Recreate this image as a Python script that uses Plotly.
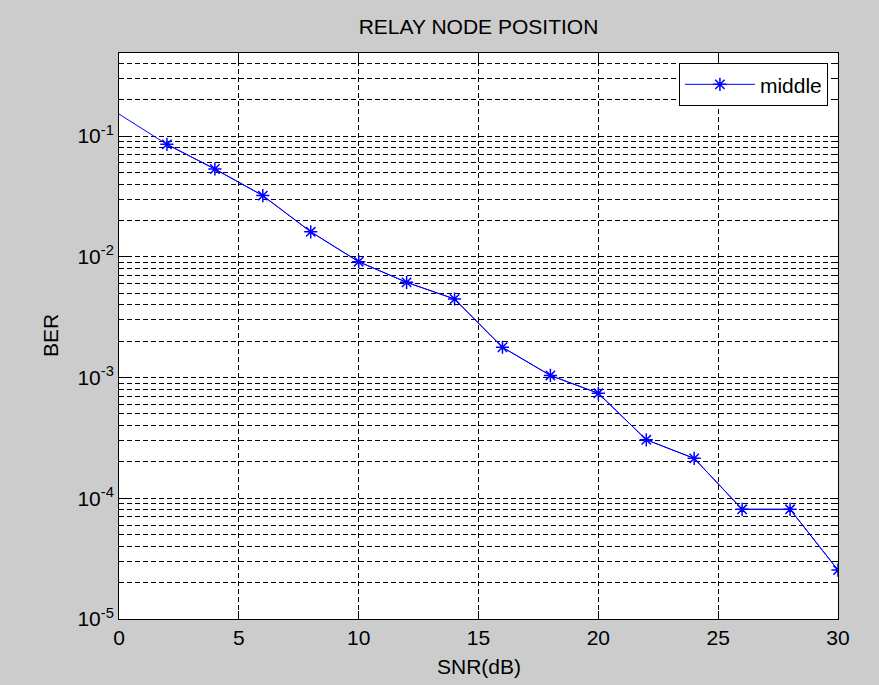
import numpy as np
import plotly.graph_objects as go

snr_db = [0, 2, 4, 6, 8, 10, 12, 14, 16, 18, 20, 22, 24, 26, 28, 30]
ber_middle = [0.152, 0.0853, 0.0533, 0.0321, 0.0161, 0.0091, 0.00614, 0.00447,
              0.00178, 0.00104, 0.00074, 0.000305, 0.000214, 0.000081, 0.000081, 0.0000254]
series_name = "middle"
x_ticks = [0, 5, 10, 15, 20, 25, 30]
y_major = [1e-5, 1e-4, 1e-3, 1e-2, 1e-1]
y_major_text = ["10<sup>-5</sup>", "10<sup>-4</sup>", "10<sup>-3</sup>", "10<sup>-2</sup>", "10<sup>-1</sup>"]
y_minor = [m * 10.0 ** e for e in range(-5, 0) for m in range(2, 10)]
y_top = 0.487

FONT = "Liberation Sans, Arial, sans-serif"
FS = 21
BLUE = "#0000ff"
GRID_DASH = "5px,3px"

fig = go.Figure()
# line through all points (first point has no marker in the reference)
fig.add_trace(go.Scatter(x=snr_db, y=ber_middle, mode="lines",
                         line=dict(color=BLUE, width=1), showlegend=False,
                         hoverinfo="skip"))
fig.add_trace(go.Scatter(x=snr_db[1:], y=ber_middle[1:], mode="lines+markers",
                         name=series_name,
                         line=dict(color=BLUE, width=1),
                         marker=dict(symbol="asterisk", size=11, color=BLUE,
                                     line=dict(color=BLUE, width=1.5))))

fig.update_layout(
    width=879, height=685,
    margin=dict(l=119, r=41, t=53, b=66),
    paper_bgcolor="#cccccc", plot_bgcolor="white",
    font=dict(family=FONT, size=FS, color="black"),
    title=dict(text="RELAY NODE POSITION", x=0.5, xanchor="center",
               xref="paper", y=1 - 27 / 685, yref="container", yanchor="middle",
               font=dict(family=FONT, size=FS, color="black")),
    legend=dict(x=0.986, y=0.982, xanchor="right", yanchor="top",
                bgcolor="white", bordercolor="black", borderwidth=1,
                itemwidth=70,
                font=dict(family=FONT, size=FS, color="black")),
    showlegend=True,
)

fig.update_xaxes(range=[0, 30], tickvals=x_ticks, ticktext=[str(v) for v in x_ticks],
                 showline=True, linecolor="black", linewidth=1, mirror="allticks",
                 ticks="inside", ticklen=8, tickcolor="black", tickwidth=1,
                 showgrid=True, gridcolor="black", gridwidth=1, griddash=GRID_DASH,
                 zeroline=False, tickfont=dict(family=FONT, size=FS, color="black"))
fig.update_yaxes(type="log", range=[-5, np.log10(y_top)],
                 tickvals=y_major, ticktext=y_major_text,
                 showline=True, linecolor="black", linewidth=1, mirror="allticks",
                 ticks="inside", ticklen=8, tickcolor="black", tickwidth=1,
                 showgrid=True, gridcolor="black", gridwidth=1, griddash=GRID_DASH,
                 zeroline=False, tickfont=dict(family=FONT, size=FS, color="black"),
                 minor=dict(tickvals=y_minor, ticks="inside", ticklen=4, tickcolor="black",
                            showgrid=True, gridcolor="black", gridwidth=1, griddash=GRID_DASH))

fig.add_annotation(text="SNR(dB)", x=0.5, xref="paper", y=(619 - 666) / 566, yref="paper",
                   xanchor="center", yanchor="middle", showarrow=False,
                   font=dict(family=FONT, size=FS, color="black"))
fig.add_annotation(text="BER", x=(50 - 119) / 719, xref="paper", y=(619 - 336) / 566, yref="paper",
                   showarrow=False, textangle=-90, xanchor="center", yanchor="middle",
                   font=dict(family=FONT, size=FS, color="black"))

fig.write_html("out.html")
